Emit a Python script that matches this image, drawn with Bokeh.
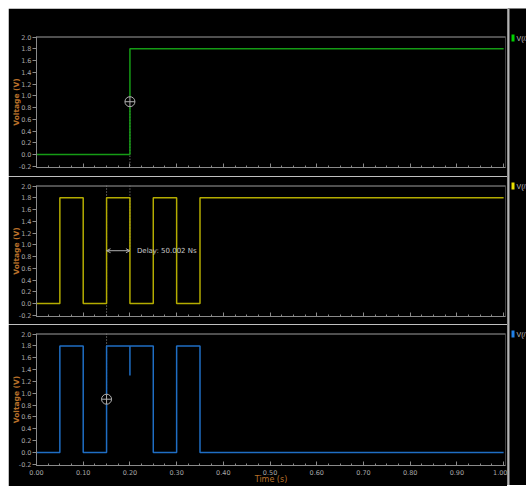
from bokeh.plotting import figure
from bokeh.layouts import column, row, Spacer
from bokeh.models import (Range1d, SingleIntervalTicker, PrintfTickFormatter, Span,
                          Arrow, OpenHead, Label, CustomJSTickFormatter)
from bokeh.embed import file_html
from bokeh.resources import INLINE

# ---------------- data ----------------
t_a = [0.0, 0.20, 1.0]
v_a = [0.0, 1.8, 1.8]
t_b = [0.0, 0.05, 0.10, 0.15, 0.20, 0.25, 0.30, 0.35, 1.0]
v_b = [0.0, 1.8, 0.0, 1.8, 0.0, 1.8, 0.0, 1.8, 1.8]
t_y = [0.0, 0.05, 0.10, 0.15, 0.25, 0.30, 0.35, 1.0]
v_y = [0.0, 1.8, 0.0, 1.8, 0.0, 1.8, 0.0, 0.0]
glitch_t = [0.20]
glitch_top = [1.8]
glitch_low = [1.3]
cursor_a_t = 0.20
cursor_b_t = 0.15
cursor_v = 0.9
delay_text = "Delay: 50.002 Ns"
series_names = ["V(/A)", "V(/B)", "V(/Y)"]
series_colors = ["#159c15", "#b4ac00", "#1f6ec4"]
legend_colors = ["#00d000", "#e8e000", "#2080e8"]
x_label = "Time (s)"
y_label = "Voltage (V)"

# ---------------- style ----------------
BG = "#000000"
AX = "#8a8a8a"
TICK_TXT = "#a8a8a8"
LBL = "#b8702a"
FONT = "DejaVu Sans"
X0, X1 = 0.0, 1.004
Y0, Y1 = -0.22, 2.01
FW, FH = 469, 131
MARGIN = 8


def make_panel(top, bottom, show_labels, fh=FH):
    p = figure(frame_width=FW, frame_height=fh, x_range=Range1d(X0, X1),
               y_range=Range1d(Y0, Y1), output_backend="svg", toolbar_location=None,
               min_border_left=28, min_border_right=2, min_border_top=top,
               min_border_bottom=bottom)
    p.background_fill_color = BG
    p.border_fill_color = BG
    p.outline_line_color = None
    p.grid.visible = False
    # y axis
    ya = p.yaxis[0]
    ya.ticker = SingleIntervalTicker(interval=0.2, num_minor_ticks=0)
    ya.formatter = PrintfTickFormatter(format="%.1f")
    ya.axis_line_color = AX
    ya.major_tick_line_color = AX
    ya.major_tick_out = 4
    ya.major_tick_in = 0
    ya.minor_tick_line_color = None
    ya.major_label_text_color = TICK_TXT
    ya.major_label_text_font = FONT
    ya.major_label_text_font_size = "6.5px"
    ya.major_label_standoff = 1
    ya.axis_label = y_label
    ya.axis_label_text_color = LBL
    ya.axis_label_text_font = FONT
    ya.axis_label_text_font_size = "7.5px"
    ya.axis_label_text_font_style = "bold"
    ya.axis_label_standoff = -5
    # x axis
    xa = p.xaxis[0]
    xa.ticker = SingleIntervalTicker(interval=0.1, num_minor_ticks=4)
    xa.axis_line_color = AX
    xa.major_tick_line_color = AX
    xa.minor_tick_line_color = AX
    xa.major_tick_in = 4
    xa.major_tick_out = 0
    xa.minor_tick_in = 2
    xa.minor_tick_out = 0
    xa.major_label_text_color = TICK_TXT
    xa.major_label_text_font = FONT
    xa.major_label_text_font_size = "6.5px"
    if show_labels:
        xa.formatter = PrintfTickFormatter(format="%.2f")
        xa.major_label_standoff = 4
        xa.axis_label = x_label
        xa.axis_label_text_color = LBL
        xa.axis_label_text_font = FONT
        xa.axis_label_text_font_size = "8px"
        xa.axis_label_text_font_style = "normal"
        xa.axis_label_standoff = -3
    else:
        xa.formatter = CustomJSTickFormatter(code="return ''")
        xa.major_label_standoff = 0
    p.add_layout(Span(location=2.0, dimension="width", line_color=AX, line_width=1))
    return p


DOT = dict(line_color="#9a9a9a", line_dash="1 2", line_width=1)

# panel 1 : V(/A)
p1 = make_panel(28, 9, False)
p1.segment(x0=[cursor_a_t], y0=[cursor_v], x1=[cursor_a_t], y1=[Y0], **DOT)
p1.step(t_a, v_a, mode="after", line_color=series_colors[0], line_width=1.5)
p1.scatter([cursor_a_t], [cursor_v], marker="circle_cross", size=10,
           line_color="#b0b0b0", fill_color=BG, line_width=1)

# panel 2 : V(/B)
p2 = make_panel(9, 8, False)
p2.segment(x0=[cursor_a_t, cursor_b_t], y0=[Y1, Y1], x1=[cursor_a_t, cursor_b_t],
           y1=[cursor_v, Y0], **DOT)
p2.step(t_b, v_b, mode="after", line_color=series_colors[1], line_width=1.5)
p2.add_layout(Arrow(start=OpenHead(size=4, line_color="#b0b0b0", line_width=1),
                    end=OpenHead(size=4, line_color="#b0b0b0", line_width=1),
                    x_start=cursor_b_t, y_start=cursor_v, x_end=cursor_a_t, y_end=cursor_v,
                    line_color="#b0b0b0", line_width=1))
p2.add_layout(Label(x=cursor_a_t + 0.015, y=cursor_v, text=delay_text,
                    text_color="#c8c8c8", text_font=FONT, text_font_size="7px",
                    text_baseline="middle"))

# panel 3 : V(/Y)
FH3 = 132
p3 = make_panel(9, 20, True, fh=FH3)
p3.segment(x0=[cursor_b_t], y0=[Y1], x1=[cursor_b_t], y1=[cursor_v], **DOT)
p3.step(t_y, v_y, mode="after", line_color=series_colors[2], line_width=1.5)
p3.segment(x0=glitch_t, y0=glitch_top, x1=glitch_t, y1=glitch_low,
           line_color=series_colors[2], line_width=1.5)
p3.scatter([cursor_b_t], [cursor_v], marker="circle_cross", size=10,
           line_color="#b0b0b0", fill_color=BG, line_width=1)

# side strip with separator and legend
H_TOTAL = (28 + FH + 9) + (9 + FH + 8) + (9 + FH3 + 20)
SW = 19
side = figure(frame_width=SW, frame_height=H_TOTAL, x_range=Range1d(0, SW),
              y_range=Range1d(H_TOTAL, 0), output_backend="svg", toolbar_location=None,
              min_border=0, x_axis_type=None, y_axis_type=None)
side.background_fill_color = BG
side.border_fill_color = BG
side.outline_line_color = None
side.grid.visible = False
side.segment(x0=[1], y0=[0], x1=[1], y1=[H_TOTAL], line_color="#b4b4b4", line_width=2)
leg_y = [29.5, 177.5, 325.5]
side.rect(x=[5.5] * 3, y=leg_y, width=3, height=7, fill_color=legend_colors,
          line_color=None)
side.text(x=[9] * 3, y=leg_y, text=series_names, text_color="#c0c0c0",
          text_font_size="7px", text_baseline="middle", text_align="left")

layout = column(Spacer(height=MARGIN),
                row(Spacer(width=MARGIN), column(p1, p2, p3, spacing=0), side, spacing=0),
                spacing=0)
open("out.html", "w").write(file_html(layout, INLINE))
